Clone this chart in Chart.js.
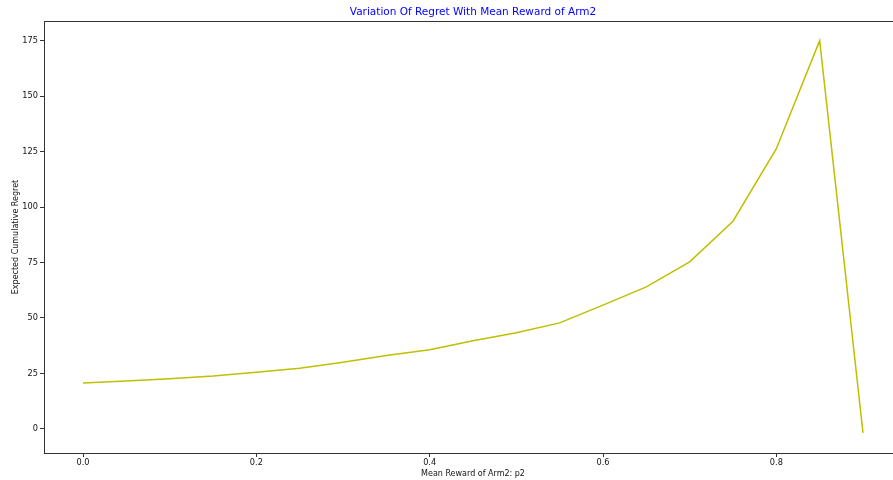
<!DOCTYPE html>
<html lang="en">
<head>
  <meta charset="UTF-8" />
  <title>Variation Of Regret</title>
  <script src="https://cdn.jsdelivr.net/npm/chart.js"></script>
  <style>
    body {
      margin: 0;
      background: #ffffff;
      overflow: hidden;
    }
    /* the reference is cropped on the right, so the chart is a bit wider than the window */
    .wrap {
      width: 910px;
      height: 480px;
    }
  </style>
</head>
<body>
  <div class="wrap"><canvas id="regretChart"></canvas></div>

  <script>
    // data
    const p2Values = [0.0, 0.05, 0.1, 0.15, 0.2, 0.25, 0.3, 0.35, 0.4, 0.45,
                      0.5, 0.55, 0.6, 0.65, 0.7, 0.75, 0.8, 0.85, 0.9];
    const regretValues = [20.7, 21.6, 22.6, 23.8, 25.5, 27.3, 30.0, 33.1, 35.7, 39.7,
                          43.3, 47.8, 55.8, 64.0, 75.3, 93.6, 126.3, 175.0, -1.8];
    const xTicks = [0.0, 0.2, 0.4, 0.6, 0.8];
    const yTicks = [0, 25, 50, 75, 100, 125, 150, 175];

    const points = p2Values.map((p, i) => ({ x: p, y: regretValues[i] }));

    // matplotlib style box: draw top and right spines too
    const frame = {
      id: 'frame',
      afterDraw(chart) {
        const a = chart.chartArea;
        const ctx = chart.ctx;
        ctx.save();
        ctx.strokeStyle = '#333';
        ctx.lineWidth = 1;
        ctx.strokeRect(a.left + 0.5, a.top + 0.5, a.right - a.left, a.bottom - a.top);
        ctx.restore();
      }
    };

    const tickFont = { family: 'DejaVu Sans', size: 8.2 };
    const labelFont = { family: 'DejaVu Sans', size: 8 };

    new Chart(document.getElementById('regretChart'), {
      type: 'line',
      data: {
        datasets: [{
          data: points,
          borderColor: '#bfbf00',
          borderWidth: 1.5,
          pointRadius: 0,
          fill: false,
          tension: 0
        }]
      },
      options: {
        responsive: true,
        maintainAspectRatio: false,
        animation: false,
        layout: { padding: { left: 0, right: 8, top: 0, bottom: 0 } },
        plugins: {
          legend: { display: false },
          tooltip: { enabled: false },
          title: {
            display: true,
            text: 'Variation Of Regret With Mean Reward of Arm2',
            color: '#0000ff',
            fullSize: false,
            font: { family: 'DejaVu Sans', size: 10.5, weight: 'normal' },
            padding: { top: 6.1, bottom: 2.3 }
          }
        },
        scales: {
          x: {
            type: 'linear',
            min: -0.045,
            max: 0.945,
            afterFit(s) { s.height = 27; },
            afterBuildTicks(s) { s.ticks = xTicks.map(v => ({ value: v })); },
            ticks: {
              color: '#111',
              font: tickFont,
              padding: 1.1,
              maxRotation: 0,
              callback: v => v.toFixed(1)
            },
            grid: { drawOnChartArea: false, drawTicks: true, tickLength: 4, color: '#333' },
            border: { display: true, color: '#333' },
            title: {
              display: true,
              text: 'Mean Reward of Arm2: p2',
              color: '#111',
              font: labelFont,
              padding: { top: 0, bottom: 1.7 }
            }
          },
          y: {
            min: -10.85,
            max: 183.85,
            afterFit(s) { s.width = 44; },
            afterBuildTicks(s) { s.ticks = yTicks.map(v => ({ value: v })); },
            ticks: {
              color: '#111',
              font: tickFont,
              padding: 2
            },
            grid: { drawOnChartArea: false, drawTicks: true, tickLength: 4, color: '#333' },
            border: { display: true, color: '#333' },
            title: {
              display: true,
              text: 'Expected Cumulative Regret',
              color: '#111',
              font: labelFont,
              padding: { top: 10.7, bottom: 0 }
            }
          }
        }
      },
      plugins: [frame]
    });
  </script>
</body>
</html>
